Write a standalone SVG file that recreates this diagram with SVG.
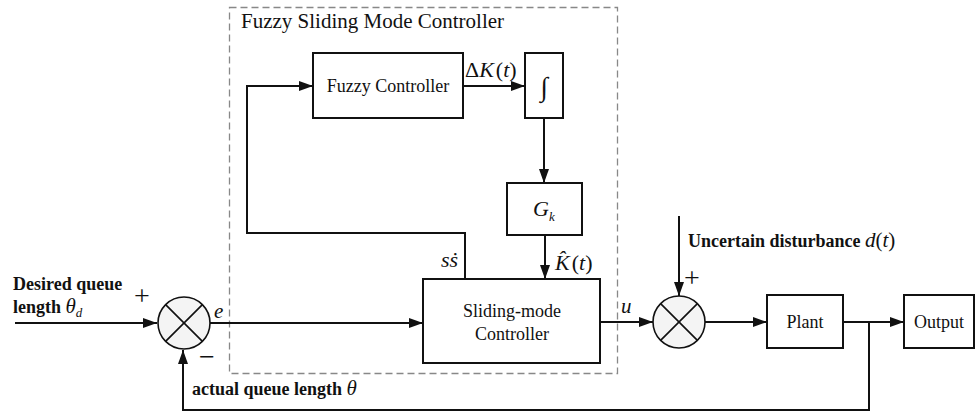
<svg xmlns="http://www.w3.org/2000/svg" width="977" height="414" viewBox="0 0 977 414">
<style>
text{font-family:'Liberation Serif','Times New Roman','DejaVu Serif',serif;fill:#111}
.blk{fill:#fff;stroke:#111;stroke-width:2}
.ln{fill:none;stroke:#111;stroke-width:2}
.lbl{font-size:18px}
.b{font-weight:bold;font-size:18px}
.m{font-style:italic;font-size:21px}
.n{font-style:normal;font-weight:normal}
.sum{fill:#f4f4f4;stroke:#111;stroke-width:1.6}
.pm{font-size:28px}
</style>
<defs>
<marker id="ah" viewBox="0 0 14 10" refX="14" refY="5" markerWidth="14" markerHeight="10" markerUnits="userSpaceOnUse" orient="auto">
<path d="M0,0 L14,5 L0,10 Z" fill="#111"/>
</marker>
</defs>
<rect id="fsmc" x="229.5" y="7.5" width="388" height="366" fill="none" stroke="#888" stroke-width="1.3" stroke-dasharray="7,4"/>
<text x="241" y="28" style="font-size:21px">Fuzzy Sliding Mode Controller</text>
<g id="connectors">
<path class="ln" d="M15,323 H157" marker-end="url(#ah)"/>
<path class="ln" d="M210,323 H423" marker-end="url(#ah)"/>
<path class="ln" d="M465,279 V233 H247 V86 H313" marker-end="url(#ah)"/>
<path class="ln" d="M463,86 H525" marker-end="url(#ah)"/>
<path class="ln" d="M544,118 V183" marker-end="url(#ah)"/>
<path class="ln" d="M545,235 V279" marker-end="url(#ah)"/>
<path class="ln" d="M600,322 H653" marker-end="url(#ah)"/>
<path class="ln" d="M679,216 V296" marker-end="url(#ah)"/>
<path class="ln" d="M705,322 H767" marker-end="url(#ah)"/>
<path class="ln" d="M843,322 H904" marker-end="url(#ah)"/>
<path class="ln" d="M869,322 V410 H183 V350" marker-end="url(#ah)"/>
</g>
<g id="sum1">
<circle class="sum" cx="184" cy="323" r="26"/>
<path class="ln" d="M165.6,304.6 L202.4,341.4 M202.4,304.6 L165.6,341.4" style="stroke-width:1.6"/>
</g>
<g id="sum2">
<circle class="sum" cx="679" cy="322" r="26"/>
<path class="ln" d="M660.6,303.6 L697.4,340.4 M697.4,303.6 L660.6,340.4" style="stroke-width:1.6"/>
</g>
<g id="fuzzy">
<rect class="blk" x="313" y="53" width="150" height="65"/>
<text class="lbl" x="388" y="92" text-anchor="middle">Fuzzy Controller</text>
</g>
<g id="integrator">
<rect class="blk" x="525" y="53" width="38" height="65"/>
<text x="544" y="96" text-anchor="middle" style="font-size:27px">∫</text>
</g>
<g id="gk">
<rect class="blk" x="507" y="183" width="75" height="52"/>
<text class="m" x="533" y="216" style="font-size:22px">G</text>
<text class="m" x="549" y="221" style="font-size:13px">k</text>
</g>
<g id="smc">
<rect class="blk" x="423" y="279" width="177" height="84"/>
<text class="lbl" x="512" y="317" text-anchor="middle">Sliding-mode</text>
<text class="lbl" x="512" y="340" text-anchor="middle">Controller</text>
</g>
<g id="plant">
<rect class="blk" x="767" y="295" width="76" height="53"/>
<text class="lbl" x="805" y="328" text-anchor="middle">Plant</text>
</g>
<g id="output">
<rect class="blk" x="904" y="295" width="70" height="53"/>
<text class="lbl" x="939" y="328" text-anchor="middle">Output</text>
</g>
<text class="b" x="13" y="290">Desired queue</text>
<text class="b" x="13" y="313">length <tspan class="m" style="font-weight:normal">θ</tspan><tspan style="font-style:italic;font-weight:normal;font-size:13px" dy="4">d</tspan></text>
<text class="pm" x="134" y="305">+</text>
<text class="m" x="214" y="318">e</text>
<text class="pm" x="199" y="366">−</text>
<text class="b" x="192" y="395">actual queue length <tspan class="m" style="font-weight:normal">θ</tspan></text>
<text class="m" x="465" y="77" style="font-size:22px"><tspan class="n">Δ</tspan>K<tspan class="n" dx="2">(</tspan>t<tspan class="n">)</tspan></text>
<text class="m" x="441" y="267" style="font-size:22px">sṡ</text>
<text class="m" x="555" y="270" style="font-size:22px">K̂<tspan class="n" dx="2">(</tspan>t<tspan class="n">)</tspan></text>
<text class="m" x="621" y="313">u</text>
<text class="pm" x="684" y="287">+</text>
<text class="b" x="688" y="247">Uncertain disturbance <tspan class="m n" style="font-style:italic">d</tspan><tspan class="n" style="font-size:21px">(</tspan><tspan class="m n" style="font-style:italic">t</tspan><tspan class="n" style="font-size:21px">)</tspan></text>
</svg>
